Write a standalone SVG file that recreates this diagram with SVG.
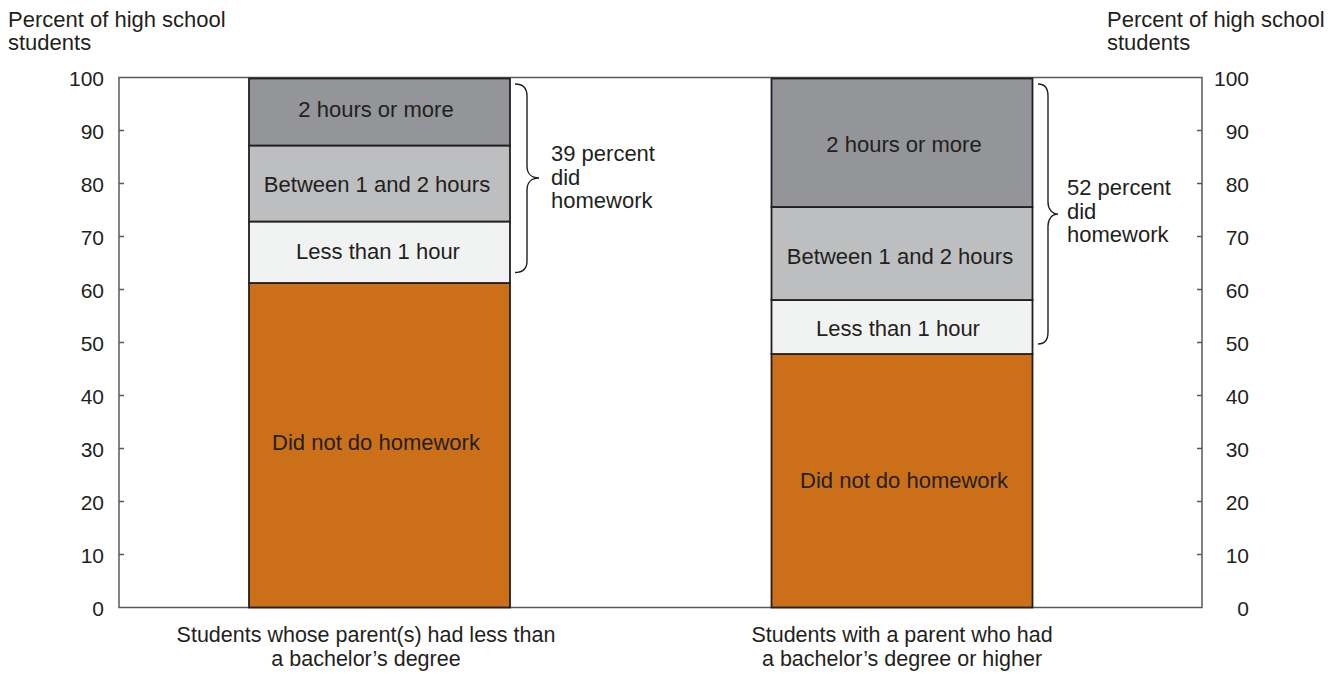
<svg xmlns="http://www.w3.org/2000/svg" width="1343" height="674" viewBox="0 0 1343 674">
<style>
text{font-family:"Liberation Sans",Arial,sans-serif;font-size:22px;fill:#231f20}
.num{font-size:21px}
.lab{text-anchor:middle}
.xl{text-anchor:middle;font-size:21.5px}
.seg{stroke:#231f20;stroke-width:1.8}
.h2{fill:#939598}.h12{fill:#bcbec0}.h1{fill:#f1f2f2}.no{fill:#cc6f19}
.brace{fill:none;stroke:#231f20;stroke-width:1.4}
.tick{stroke:#58595b;stroke-width:1.5}
</style>
<rect width="1343" height="674" fill="#fff"/>
<g id="axes">
<rect x="119" y="77.5" width="1083" height="530" fill="none" stroke="#58595b" stroke-width="1.5"/>
<path class="tick" d="M119,554.5h5M119,501.5h5M119,448.5h5M119,395.5h5M119,342.5h5M119,289.5h5M119,236.5h5M119,183.5h5M119,130.5h5M1202,554.5h-5M1202,501.5h-5M1202,448.5h-5M1202,395.5h-5M1202,342.5h-5M1202,289.5h-5M1202,236.5h-5M1202,183.5h-5M1202,130.5h-5"/>
<g class="num" text-anchor="end">
<text class="num" x="104" y="85.5">100</text>
<text class="num" x="104" y="138.5">90</text>
<text class="num" x="104" y="191.5">80</text>
<text class="num" x="104" y="244.5">70</text>
<text class="num" x="104" y="297.5">60</text>
<text class="num" x="104" y="350.5">50</text>
<text class="num" x="104" y="403.5">40</text>
<text class="num" x="104" y="456.5">30</text>
<text class="num" x="104" y="509.5">20</text>
<text class="num" x="104" y="562.5">10</text>
<text class="num" x="104" y="615.5">0</text>
<text class="num" x="1249" y="85.5">100</text>
<text class="num" x="1249" y="138.5">90</text>
<text class="num" x="1249" y="191.5">80</text>
<text class="num" x="1249" y="244.5">70</text>
<text class="num" x="1249" y="297.5">60</text>
<text class="num" x="1249" y="350.5">50</text>
<text class="num" x="1249" y="403.5">40</text>
<text class="num" x="1249" y="456.5">30</text>
<text class="num" x="1249" y="509.5">20</text>
<text class="num" x="1249" y="562.5">10</text>
<text class="num" x="1249" y="615.5">0</text>
</g>
<text x="8" y="27">Percent of high school</text>
<text x="8" y="50">students</text>
<text x="1107" y="27">Percent of high school</text>
<text x="1107" y="50">students</text>
</g>
<g id="bar-less-than-bachelors">
<rect class="seg no" x="249" y="283" width="261" height="324.5"/>
<rect class="seg h1" x="249" y="221.5" width="261" height="61.5"/>
<rect class="seg h12" x="249" y="145.5" width="261" height="76"/>
<rect class="seg h2" x="249" y="78.5" width="261" height="67"/>
<text class="lab" x="376" y="117">2 hours or more</text>
<text class="lab" x="377" y="192">Between 1 and 2 hours</text>
<text class="lab" x="378" y="259">Less than 1 hour</text>
<text class="lab" x="376" y="450">Did not do homework</text>
<text class="xl" x="366" y="642">Students whose parent(s) had less than</text>
<text class="xl" x="366" y="666">a bachelor’s degree</text>
</g>
<g id="bar-bachelors-or-higher">
<rect class="seg no" x="771.5" y="354" width="261" height="253.5"/>
<rect class="seg h1" x="771.5" y="300" width="261" height="54"/>
<rect class="seg h12" x="771.5" y="207" width="261" height="93"/>
<rect class="seg h2" x="771.5" y="78.5" width="261" height="128.5"/>
<text class="lab" x="904" y="152">2 hours or more</text>
<text class="lab" x="900" y="263.5">Between 1 and 2 hours</text>
<text class="lab" x="898" y="336">Less than 1 hour</text>
<text class="lab" x="904" y="488">Did not do homework</text>
<text class="xl" x="902" y="642">Students with a parent who had</text>
<text class="xl" x="902" y="666">a bachelor’s degree or higher</text>
</g>
<g id="brace-39">
<path class="brace" d="M515,84 C523,84 527,88 527,96 L527,166 C527,173 531,178 539,178 C531,178 527,183 527,190 L527,261 C527,268 523,272.5 515,272.5"/>
<text x="551" y="161">39 percent</text>
<text x="551" y="184.5">did</text>
<text x="551" y="208">homework</text>
</g>
<g id="brace-52">
<path class="brace" d="M1038,84 C1045,84 1048,88 1048,96 L1048,202 C1048,209 1052,214 1058,214 C1052,214 1048,219 1048,226 L1048,332 C1048,339 1045,344 1038,344"/>
<text x="1067" y="195">52 percent</text>
<text x="1067" y="218.5">did</text>
<text x="1067" y="242">homework</text>
</g>
</svg>
